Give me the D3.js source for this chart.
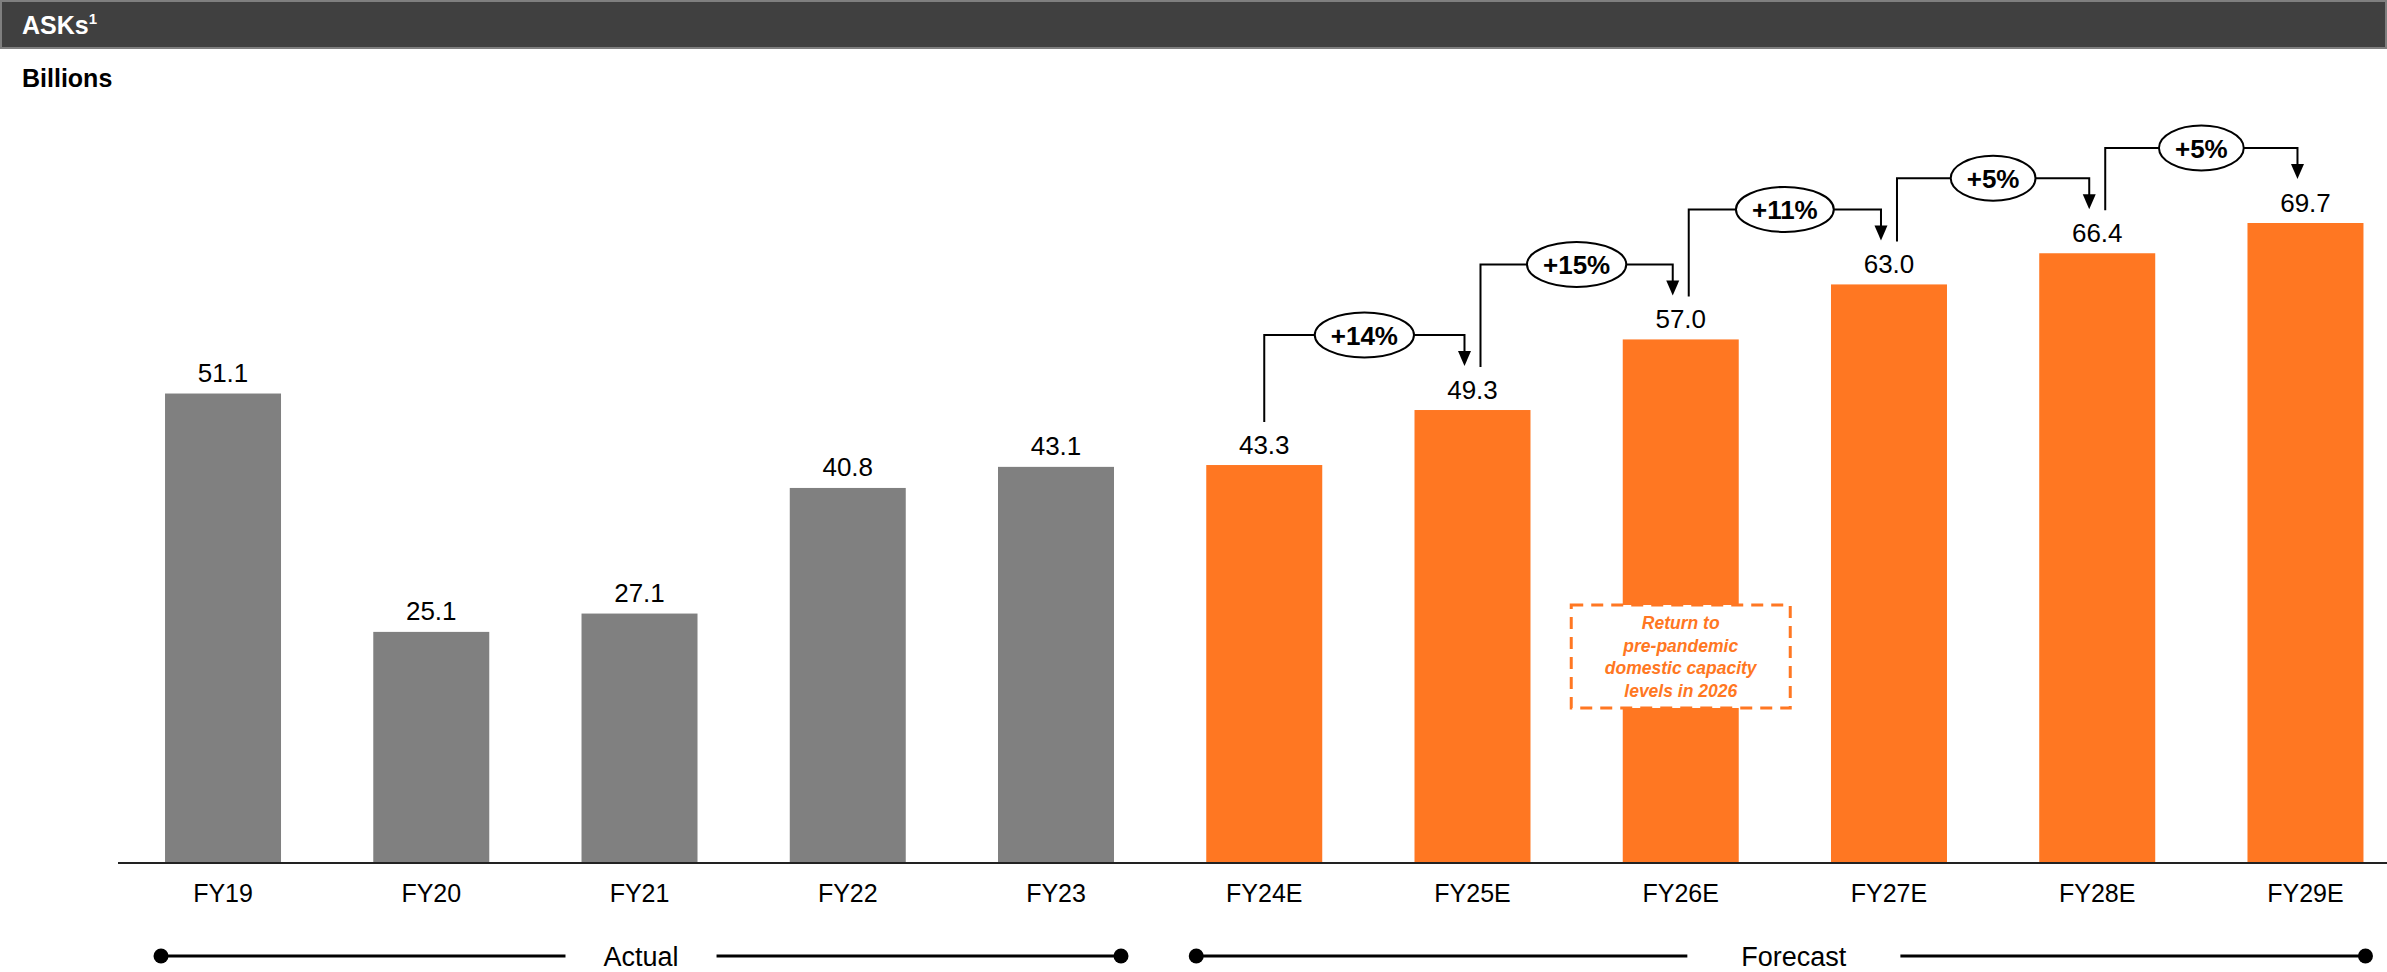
<!DOCTYPE html>
<html>
<head>
<meta charset="utf-8">
<script src="https://cdn.jsdelivr.net/npm/d3@7/dist/d3.min.js"></script>
<style>
  html, body { margin: 0; padding: 0; background: #fff; }
  svg { display: block; }
  text { font-family: "Liberation Sans", Arial, Helvetica, sans-serif; }
</style>
</head>
<body>
<svg id="chart" width="2387" height="972"></svg>
<script>
// ---------------- data ----------------
const categories = ["FY19", "FY20", "FY21", "FY22", "FY23", "FY24E", "FY25E", "FY26E", "FY27E", "FY28E", "FY29E"];
const values = [51.1, 25.1, 27.1, 40.8, 43.1, 43.3, 49.3, 57.0, 63.0, 66.4, 69.7];
const periodType = ["Actual", "Actual", "Actual", "Actual", "Actual", "Forecast", "Forecast", "Forecast", "Forecast", "Forecast", "Forecast"];
const growthFrom = ["FY24E", "FY25E", "FY26E", "FY27E", "FY28E"];
const growthTo = ["FY25E", "FY26E", "FY27E", "FY28E", "FY29E"];
const growthLabels = ["+14%", "+15%", "+11%", "+5%", "+5%"];
const groupLabels = ["Actual", "Forecast"];
const groupFirst = ["FY19", "FY24E"];
const groupLast = ["FY23", "FY29E"];
const calloutCategory = "FY26E";
const calloutLines = ["Return to", "pre-pandemic", "domestic capacity", "levels in 2026"];
const titleText = "ASKs";
const titleSup = "1";
const unitText = "Billions";

// ---------------- styles ----------------
const ORANGE = "#FF7722";
const GRAY = "#808080";
const FONT = "'Liberation Sans', Arial, Helvetica, sans-serif";

const svg = d3.select("#chart");
const W = 2387, H = 972;

// header bar
svg.append("rect").attr("x", 1).attr("y", 1).attr("width", W - 2).attr("height", 47)
  .attr("fill", "#404040").attr("stroke", "#7f7f7f").attr("stroke-width", 2);
const t = svg.append("text").attr("x", 22).attr("y", 34)
  .attr("fill", "#fff").attr("font-weight", "bold").attr("font-size", 25).text(titleText);
t.append("tspan").attr("font-size", 15).attr("dy", -10).text(titleSup);

svg.append("text").attr("x", 22).attr("y", 87).attr("font-weight", "bold")
  .attr("font-size", 25).attr("fill", "#000").text(unitText);

// scales
const x = d3.scaleBand().domain(categories).range([118.9, 2409.6]).paddingInner(0.443).paddingOuter(0.2215);
const y = d3.scaleLinear().domain([0, 69.7]).range([862, 223]);
const bw = x.bandwidth();
const cx = c => x(c) + bw / 2;
const valOf = c => values[categories.indexOf(c)];

// bars
svg.append("g").selectAll("rect").data(categories).join("rect")
  .attr("x", d => x(d)).attr("width", bw)
  .attr("y", (d, i) => y(values[i])).attr("height", (d, i) => y(0) - y(values[i]))
  .attr("fill", (d, i) => periodType[i] === "Actual" ? GRAY : ORANGE);

// value labels
svg.append("g").selectAll("text").data(categories).join("text")
  .attr("x", d => cx(d)).attr("y", (d, i) => y(values[i]) - 11.5)
  .attr("text-anchor", "middle").attr("font-size", 26).attr("fill", "#000")
  .text((d, i) => d3.format(".1f")(values[i]));

// x axis
const axis = d3.axisBottom(x).tickSize(0).tickPadding(22);
const gAxis = svg.append("g").attr("transform", `translate(0,${y(0)})`).call(axis);
gAxis.select(".domain").remove();
gAxis.selectAll("text").attr("font-size", 25).attr("font-family", FONT).attr("fill", "#000");
svg.append("line").attr("x1", 118).attr("x2", W).attr("y1", y(0) + 1).attr("y2", y(0) + 1)
  .attr("stroke", "#222").attr("stroke-width", 2);

// growth annotations
const ga = svg.append("g");
growthFrom.forEach((from, i) => {
  const to = growthTo[i];
  const sx = i === 0 ? cx(from) : cx(from) + 8;
  const ex = cx(to) - 8;
  const hy = y(valOf(to)) - 75;
  const sBottom = y(valOf(from)) - 43;
  const tip = y(valOf(to)) - 44;
  ga.append("path")
    .attr("d", `M${sx},${sBottom}V${hy}H${ex}V${tip - 14}`)
    .attr("fill", "none").attr("stroke", "#000").attr("stroke-width", 2);
  ga.append("path")
    .attr("d", `M${ex - 6.5},${tip - 15}L${ex + 6.5},${tip - 15}L${ex},${tip}Z`)
    .attr("fill", "#000");
  const mx = (sx + ex) / 2;
  const el = ga.append("ellipse").attr("cx", mx).attr("cy", hy).attr("ry", 22.5)
    .attr("fill", "#fff").attr("stroke", "#000").attr("stroke-width", 2);
  const tx = ga.append("text").attr("x", mx).attr("y", hy + 9.5)
    .attr("text-anchor", "middle").attr("font-weight", "bold").attr("font-size", 26)
    .attr("fill", "#000").text(growthLabels[i]);
  const tw = tx.node().getComputedTextLength();
  el.attr("rx", tw / 2 + 16);
});

// callout box
const ccx = cx(calloutCategory);
const boxW = 219, boxH = 103, boxTop = 605;
svg.append("rect").attr("x", ccx - boxW / 2).attr("y", boxTop).attr("width", boxW).attr("height", boxH)
  .attr("fill", "#fff").attr("stroke", ORANGE).attr("stroke-width", 3)
  .attr("stroke-dasharray", "12,8");
svg.append("g").selectAll("text").data(calloutLines).join("text")
  .attr("x", ccx).attr("y", (d, i) => boxTop + 24 + i * 22.7)
  .attr("text-anchor", "middle").attr("font-weight", "bold").attr("font-style", "italic")
  .attr("font-size", 17.5).attr("fill", ORANGE).text(d => d);

// period groups
const gy = 956;
const dotOffL = [-4, -10];
const dotOffR = [7, 2];
const gaps = [38, 54];
const txtOff = [0, 13];
groupLabels.forEach((lab, i) => {
  const x1 = x(groupFirst[i]) + dotOffL[i];
  const x2 = x(groupLast[i]) + bw + dotOffR[i];
  const tcx = (x1 + x2) / 2 + txtOff[i];
  const g = svg.append("g");
  const tt = g.append("text").attr("x", tcx).attr("y", gy + 10).attr("text-anchor", "middle")
    .attr("font-size", 27).attr("fill", "#000").text(lab);
  const tw = tt.node().getComputedTextLength();
  g.append("line").attr("x1", x1).attr("x2", tcx - tw / 2 - gaps[i]).attr("y1", gy).attr("y2", gy)
    .attr("stroke", "#000").attr("stroke-width", 3);
  g.append("line").attr("x1", tcx + tw / 2 + gaps[i]).attr("x2", x2).attr("y1", gy).attr("y2", gy)
    .attr("stroke", "#000").attr("stroke-width", 3);
  g.selectAll("circle").data([x1, x2]).join("circle")
    .attr("cx", d => d).attr("cy", gy).attr("r", 7.5).attr("fill", "#000");
});
</script>
</body>
</html>
